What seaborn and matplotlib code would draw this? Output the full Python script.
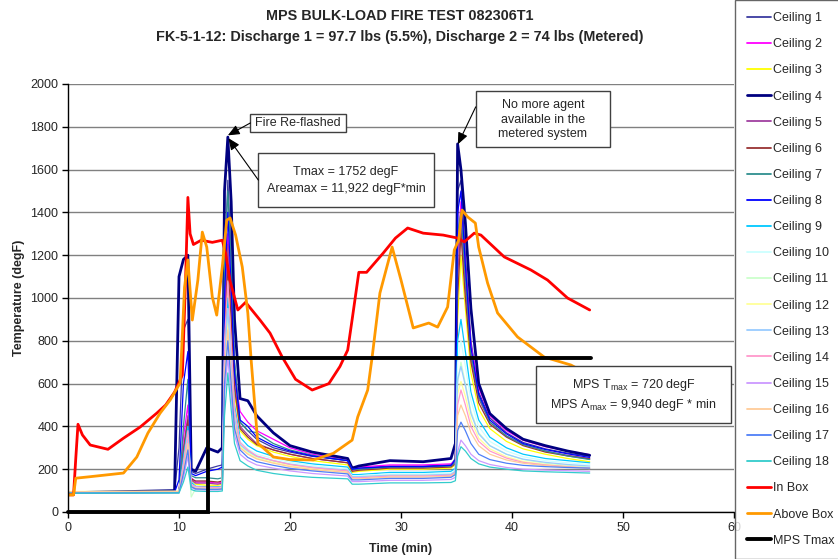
import numpy as np
import pandas as pd
import matplotlib
matplotlib.use("Agg")
import matplotlib.pyplot as plt
from matplotlib.patches import Rectangle
import seaborn as sns

# ---------------- data ----------------
times = [0, 9.6, 10.0, 10.4, 10.8, 11.1, 11.5, 12.5, 13.5, 13.9, 14.1, 14.4, 14.7, 15.0, 15.5,
         16.2, 17, 18.5, 20, 22, 25.2, 25.6, 26.2, 29, 32, 34.5, 34.9, 35.1, 35.4, 35.8,
         36.3, 37, 38, 39.5, 41, 43, 45, 47]

ceiling1 = [92, 95, 300, 850, 900, 190, 180, 200, 215, 220, 1100, 1550, 1200, 700, 420, 380, 340, 300, 280, 260, 240, 200, 205, 215, 215, 220, 250, 1500, 1550, 1200, 800, 560, 440, 370, 325, 295, 275, 260]
ceiling2 = [93, 95, 95, 350, 500, 160, 140, 140, 135, 140, 900, 1300, 1000, 650, 470, 420, 380, 340, 300, 270, 245, 210, 210, 220, 220, 225, 240, 1200, 1450, 1150, 780, 580, 450, 380, 335, 305, 285, 268]
ceiling3 = [95, 96, 96, 250, 420, 150, 130, 125, 125, 130, 800, 1100, 850, 550, 380, 340, 310, 280, 260, 240, 220, 185, 190, 200, 200, 205, 220, 900, 1200, 950, 650, 480, 390, 330, 295, 270, 250, 235]
ceiling4 = [90, 100, 1100, 1180, 1200, 200, 190, 300, 280, 300, 1500, 1752, 1450, 900, 530, 520, 450, 370, 310, 280, 250, 205, 215, 240, 235, 250, 320, 1720, 1600, 1350, 950, 600, 460, 390, 340, 310, 285, 265]
ceiling5 = [92, 94, 94, 300, 450, 150, 135, 135, 130, 135, 850, 1250, 950, 600, 400, 360, 320, 290, 270, 250, 230, 195, 200, 210, 210, 215, 230, 1100, 1350, 1050, 720, 530, 420, 355, 315, 285, 265, 250]
ceiling6 = [90, 92, 92, 280, 430, 155, 145, 145, 140, 145, 800, 1150, 900, 580, 390, 350, 315, 290, 270, 250, 230, 190, 195, 205, 205, 210, 225, 1000, 1300, 1000, 700, 510, 410, 350, 310, 280, 262, 248]
ceiling7 = [88, 90, 90, 400, 620, 170, 160, 160, 155, 160, 1200, 1500, 1150, 700, 420, 380, 370, 320, 290, 265, 240, 200, 200, 210, 210, 215, 235, 1300, 1400, 1100, 740, 540, 420, 355, 315, 285, 262, 245]
ceiling8 = [90, 92, 150, 600, 750, 180, 170, 190, 200, 210, 1000, 1400, 1050, 650, 430, 400, 350, 310, 285, 262, 240, 200, 205, 212, 212, 218, 245, 1400, 1500, 1150, 770, 550, 430, 365, 320, 292, 272, 255]
ceiling9 = [92, 93, 93, 260, 400, 140, 120, 118, 118, 120, 750, 1000, 780, 500, 350, 310, 285, 260, 240, 225, 210, 175, 175, 185, 185, 190, 205, 800, 900, 750, 560, 430, 350, 300, 270, 250, 240, 230]
ceiling10 = [95, 96, 96, 220, 360, 130, 115, 112, 112, 115, 700, 950, 720, 460, 330, 295, 270, 250, 232, 218, 200, 170, 170, 178, 178, 182, 195, 700, 800, 680, 520, 400, 330, 285, 258, 240, 230, 222]
ceiling11 = [94, 95, 95, 180, 300, 70, 110, 108, 108, 110, 650, 900, 680, 430, 310, 280, 258, 238, 222, 208, 192, 165, 165, 172, 172, 176, 188, 600, 700, 600, 470, 370, 310, 270, 245, 228, 218, 210]
ceiling12 = [96, 97, 97, 200, 330, 125, 112, 110, 110, 112, 680, 880, 660, 420, 305, 275, 252, 232, 216, 202, 188, 160, 160, 168, 168, 172, 184, 550, 610, 540, 430, 345, 295, 258, 236, 222, 213, 205]
ceiling13 = [93, 94, 94, 210, 340, 125, 110, 108, 108, 110, 720, 950, 700, 440, 315, 285, 260, 240, 224, 210, 195, 165, 165, 172, 172, 176, 190, 620, 680, 590, 460, 365, 310, 270, 247, 232, 222, 215]
ceiling14 = [92, 93, 93, 230, 380, 130, 118, 116, 115, 118, 800, 1080, 800, 480, 325, 290, 262, 240, 222, 207, 192, 160, 160, 168, 168, 172, 184, 500, 570, 500, 400, 330, 285, 252, 232, 220, 212, 205]
ceiling15 = [90, 91, 91, 160, 260, 115, 105, 103, 103, 105, 550, 720, 540, 360, 270, 240, 220, 205, 192, 180, 168, 142, 142, 148, 148, 152, 162, 280, 336, 310, 270, 240, 222, 208, 200, 196, 193, 190]
ceiling16 = [95, 96, 96, 190, 320, 120, 110, 108, 108, 110, 650, 850, 640, 410, 300, 270, 248, 228, 212, 198, 185, 155, 155, 163, 163, 167, 180, 450, 500, 450, 370, 310, 270, 243, 228, 217, 210, 203]
ceiling17 = [89, 90, 90, 180, 290, 118, 108, 106, 106, 108, 600, 800, 600, 390, 290, 255, 235, 218, 204, 192, 178, 150, 150, 157, 157, 162, 175, 380, 420, 380, 320, 270, 245, 228, 218, 212, 208, 205]
ceiling18 = [88, 89, 89, 140, 210, 105, 98, 96, 96, 98, 450, 650, 480, 320, 240, 215, 195, 180, 170, 162, 155, 130, 130, 136, 136, 138, 146, 260, 305, 285, 250, 225, 210, 200, 192, 188, 185, 182]

inbox_t = [0, 0.5, 0.7, 0.9, 1.3, 2, 3.6, 5, 6.5, 8, 8.8, 9.6, 10.3, 10.6, 10.8, 11.0, 11.3, 12, 13,
           13.9, 14.2, 14.6, 15.3, 16.0, 17.3, 18.2, 19.3, 20.5, 22, 23.5, 24.5, 25.2, 25.6, 26.2,
           26.9, 28.4, 29.5, 30.6, 32, 33.8, 35.1, 35.7, 36.6, 37.2, 39.3, 41.7, 43.2, 45, 47]
inbox_v = [80, 80, 250, 410, 360, 313, 293, 345, 397, 462, 500, 560, 640, 1100, 1470, 1300, 1250,
           1270, 1260, 1270, 1210, 1080, 944, 980, 897, 836, 724, 620, 570, 600, 680, 757, 900,
           1120, 1120, 1210, 1280, 1327, 1303, 1294, 1280, 1262, 1303, 1294, 1192, 1131, 1084, 1000, 944]

above_t = [0, 0.5, 0.7, 2, 5, 6.2, 7.2, 8.3, 9.2, 10.1, 10.5, 10.8, 11.2, 11.7, 12.1, 12.5, 13.0,
           13.4, 13.9, 14.3, 14.6, 15.1, 15.7, 16.2, 16.5, 17.1, 18.5, 20, 22.1, 23.9, 25.6, 26.1,
           27, 27.4, 28.1, 29.2, 30, 31.1, 32.5, 33.3, 34.2, 34.8, 35.2, 35.5, 36, 36.7, 37, 37.8,
           38.7, 40.5, 42.9, 45.3, 47]
above_v = [80, 80, 158, 165, 182, 257, 369, 462, 523, 603, 1050, 1178, 897, 1084, 1308, 1238, 1005,
           920, 1145, 1364, 1374, 1294, 1145, 930, 710, 322, 257, 245, 243, 274, 336, 444, 570, 724,
           1023, 1238, 1084, 860, 883, 864, 958, 1224, 1271, 1411, 1379, 1350, 1238, 1070, 930, 818,
           724, 687, 640]

mps_t = [0, 12.6, 12.6, 47.1]
mps_v = [0, 0, 720, 720]

labels = ["Ceiling %d" % i for i in range(1, 19)] + ["In Box", "Above Box", "MPS Tmax"]
colors = ["#3c3ca0", "#ff00ff", "#ffff00", "#000080", "#a040a0", "#993333", "#2f8f8f", "#0000ff",
          "#00c8ff", "#ccffff", "#ccffcc", "#ffff99", "#99ccff", "#ff99cc", "#cc99ff", "#ffcc99",
          "#4f7ff7", "#33cccc", "#ff0000", "#ff9900", "#000000"]

# ---------------- style ----------------
sns.set_style("white")
plt.rcParams["font.family"] = ["Liberation Sans", "DejaVu Sans"]
plt.rcParams["mathtext.fontset"] = "custom"
plt.rcParams["mathtext.rm"] = "Liberation Sans"

fig = plt.figure(figsize=(8.38, 5.59), dpi=100)
ax = fig.add_axes([68 / 838, 1 - 512 / 559, (734 - 68) / 838, (512 - 84) / 559])

ceilings = [ceiling1, ceiling2, ceiling3, ceiling4, ceiling5, ceiling6, ceiling7, ceiling8, ceiling9,
            ceiling10, ceiling11, ceiling12, ceiling13, ceiling14, ceiling15, ceiling16, ceiling17, ceiling18]

for i, vals in enumerate(ceilings):
    lw = 2.0 if i == 3 else 0.9
    sns.lineplot(x=times, y=vals, ax=ax, color=colors[i], lw=lw, label=labels[i],
                 estimator=None, sort=False)

sns.lineplot(x=inbox_t, y=inbox_v, ax=ax, color=colors[18], lw=2.0, label=labels[18],
             estimator=None, sort=False)
sns.lineplot(x=above_t, y=above_v, ax=ax, color=colors[19], lw=2.0, label=labels[19],
             estimator=None, sort=False)
sns.lineplot(x=mps_t, y=mps_v, ax=ax, color=colors[20], lw=2.8, label=labels[20],
             estimator=None, sort=False)
ax.lines[-1].set_clip_on(False)
ax.lines[-1].set_solid_joinstyle("miter")

handles, labs = ax.get_legend_handles_labels()
if ax.get_legend() is not None:
    ax.get_legend().remove()

ax.set_xlim(0, 60)
ax.set_ylim(0, 2000)
ax.set_xticks(range(0, 61, 10))
ax.set_yticks(range(0, 2001, 200))
ax.yaxis.grid(True, color="#808080", lw=1.0)
ax.xaxis.grid(False)
ax.set_axisbelow(True)
for s in ["top", "right"]:
    ax.spines[s].set_visible(False)
for s in ["left", "bottom"]:
    ax.spines[s].set_color("#000000")
    ax.spines[s].set_linewidth(1.0)
ax.tick_params(axis="both", direction="out", length=4, width=1, color="#000000",
               labelsize=9, pad=3, bottom=True, left=True)
ax.set_xlabel("Time (min)", fontsize=9, fontweight="bold")
ax.set_ylabel("Temperature (degF)", fontsize=9, fontweight="bold")
ax.xaxis.set_label_coords(0.5, (512 - 543) / 428)
ax.yaxis.set_label_coords((25 - 68) / 666, 0.5)

# titles
fig.text(400 / 838, 1 - 16 / 559, "MPS BULK-LOAD FIRE TEST 082306T1", ha="center", va="center",
         fontsize=10.4, fontweight="bold")
fig.text(400 / 838, 1 - 37 / 559,
         "FK-5-1-12: Discharge 1 = 97.7 lbs (5.5%), Discharge 2 = 74 lbs (Metered)",
         ha="center", va="center", fontsize=10.4, fontweight="bold")

# annotation boxes (axes-data coordinates for layout)
def add_box(x0, x1, y0, y1):
    ax.add_patch(Rectangle((x0, y0), x1 - x0, y1 - y0, fc="white", ec="#404040", lw=1.0,
                           zorder=19, clip_on=False))

arrow = dict(arrowstyle="-|>,head_length=0.7,head_width=0.3", color="black", lw=0.8,
             shrinkA=0, shrinkB=0)

add_box(16.43, 25.0, 1776, 1860)
ax.text(20.72, 1816, "Fire Re-flashed", fontsize=9, ha="center", va="center", zorder=20)
ax.annotate("", xy=(14.4, 1760), xytext=(16.43, 1818), arrowprops=arrow, zorder=20)

add_box(17.15, 32.94, 1425, 1678)
ax.text(25.04, 1549, "Tmax = 1752 degF\nAreamax = 11,922 degF*min", fontsize=9,
        ha="center", va="center", linespacing=1.45, zorder=20)
ax.annotate("", xy=(14.45, 1747), xytext=(17.15, 1551), arrowprops=arrow, zorder=20)

add_box(36.73, 48.83, 1706, 1967)
ax.text(42.78, 1834, "No more agent\navailable in the\nmetered system", fontsize=9,
        ha="center", va="center", linespacing=1.25, zorder=20)
ax.annotate("", xy=(35.12, 1718), xytext=(36.73, 1893), arrowprops=arrow, zorder=20)

add_box(42.15, 59.75, 416, 682)
ax.text(50.95, 547, "MPS T$_{\\mathrm{max}}$ = 720 degF\nMPS A$_{\\mathrm{max}}$ = 9,940 degF * min",
        fontsize=9, ha="center", va="center", linespacing=1.4, zorder=20)

leg = fig.legend(handles, labs, loc="upper left", bbox_to_anchor=(735 / 838, 1.0),
                 frameon=True, fancybox=False, edgecolor="#404040", fontsize=9,
                 handlelength=1.9, handletextpad=0.15, labelspacing=1.13, borderpad=0.98,
                 borderaxespad=0)
leg.get_frame().set_linewidth(1.0)
for ln in leg.get_lines():
    if ln.get_linewidth() < 1.5:
        ln.set_linewidth(1.3)

fig.savefig("out.png", dpi=100)
